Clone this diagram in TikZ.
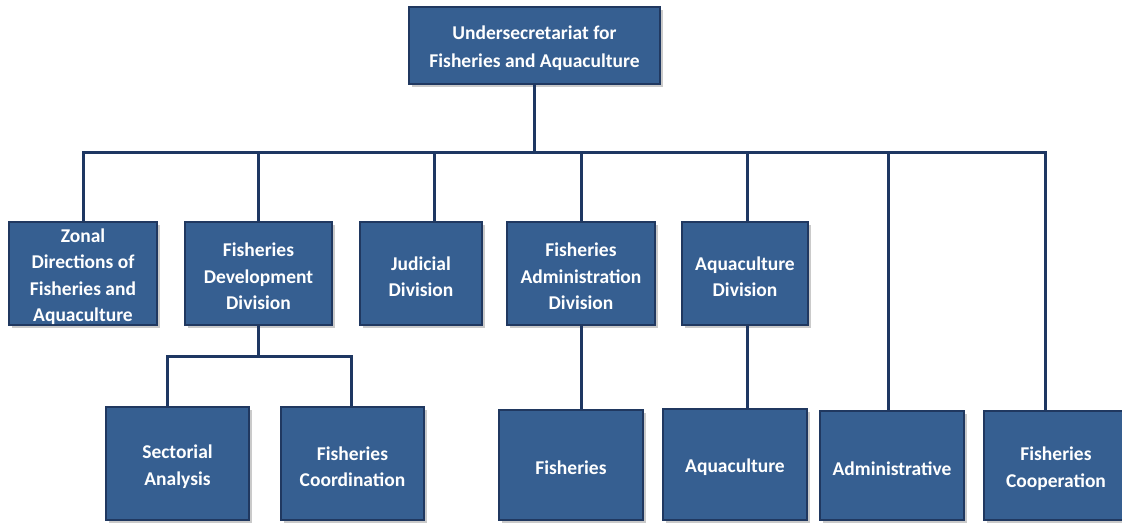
\documentclass[tikz,border=0pt]{standalone}
\usepackage{fontspec}
\setmainfont{Carlito}
\usetikzlibrary{shadows}
\definecolor{boxfill}{RGB}{54,95,145}
\definecolor{boxedge}{RGB}{32,56,96}
\definecolor{wire}{RGB}{30,55,98}
\tikzset{
  orgbox/.style={draw=boxedge, line width=1.8pt, fill=boxfill,
    inner sep=0pt, rectangle,
    drop shadow={shadow xshift=2.5pt, shadow yshift=-2.5pt, opacity=0.35, fill=black!60}},
  boxtext/.style={text=white, font=\bfseries\fontsize{19.5}{26.5}\selectfont,
    align=center, inner sep=0pt, yshift=-3pt},
  wire/.style={draw=wire, line width=3pt}
}
\begin{document}
\begin{tikzpicture}[x=1pt,y=-1pt]
\useasboundingbox (0,0) rectangle (1122,523);

% top level
\node[orgbox, minimum width=251pt, minimum height=77pt,
      label={[boxtext, font=\bfseries\fontsize{19.5}{28}\selectfont]center:Undersecretariat for\\Fisheries and Aquaculture}]
  (top) at (534.5,45.5) {};

% second row
\node[orgbox, minimum width=148pt, minimum height=103pt,
      label={[boxtext]center:Zonal\\Directions of\\Fisheries and\\Aquaculture}]
  (zonal) at (83,273.5) {};
\node[orgbox, minimum width=147pt, minimum height=103pt,
      label={[boxtext]center:Fisheries\\Development\\Division}]
  (fdev) at (258.5,273.5) {};
\node[orgbox, minimum width=122pt, minimum height=103pt,
      label={[boxtext]center:Judicial\\Division}]
  (judicial) at (421,273.5) {};
\node[orgbox, minimum width=148pt, minimum height=103pt,
      label={[boxtext]center:Fisheries\\Administration\\Division}]
  (fadmin) at (581,273.5) {};
\node[orgbox, minimum width=126pt, minimum height=103pt,
      label={[boxtext]center:Aquaculture\\Division}]
  (aqdiv) at (745,273.5) {};

% third row
\node[orgbox, minimum width=143pt, minimum height=113pt,
      label={[boxtext]center:Sectorial\\Analysis}]
  (sect) at (177.5,463.5) {};
\node[orgbox, minimum width=143pt, minimum height=113pt,
      label={[boxtext]center:Fisheries\\Coordination}]
  (fcoord) at (352.5,463.5) {};
\node[orgbox, minimum width=144pt, minimum height=110pt,
      label={[boxtext]center:Fisheries}]
  (fish) at (571,465) {};
\node[orgbox, minimum width=144pt, minimum height=111pt,
      label={[boxtext]center:Aquaculture}]
  (aqua) at (735,464.5) {};
\node[orgbox, minimum width=144pt, minimum height=109pt,
      label={[boxtext]center:Administrative}]
  (admin) at (892,465.5) {};
\node[orgbox, minimum width=144pt, minimum height=109pt,
      label={[boxtext]center:Fisheries\\Cooperation}]
  (coop) at (1056,465.5) {};

% main bus
\coordinate (bL) at (83,152);
\coordinate (bR) at (1045,152);
\coordinate (bJ) at (434,152);
\coordinate (bF) at (581,152);
\coordinate (bA) at (747,152);
\coordinate (bD) at (888,152);
\draw[wire] (top.south) -- (top.south |- bL);
\draw[wire, line cap=rect] (bL) -- (bR);
\draw[wire] (bL) -- (zonal.north);
\draw[wire] (fdev.north |- bL) -- (fdev.north);
\draw[wire] (bJ) -- (bJ |- judicial.north);
\draw[wire] (bF) -- (bF |- fadmin.north);
\draw[wire] (bA) -- (bA |- aqdiv.north);
\draw[wire] (bD) -- (bD |- admin.north);
\draw[wire] (bR) -- (bR |- coop.north);

% sub-bus under the development division
\coordinate (sL) at (167,356);
\coordinate (sR) at (351,356);
\draw[wire] (fdev.south) -- (fdev.south |- sL);
\draw[wire, line cap=rect] (sL) -- (sR);
\draw[wire] (sL) -- (sL |- sect.north);
\draw[wire] (sR) -- (sR |- fcoord.north);

% single children
\draw[wire] (bF |- fadmin.south) -- (bF |- fish.north);
\draw[wire] (bA |- aqdiv.south) -- (bA |- aqua.north);
\end{tikzpicture}
\end{document}
